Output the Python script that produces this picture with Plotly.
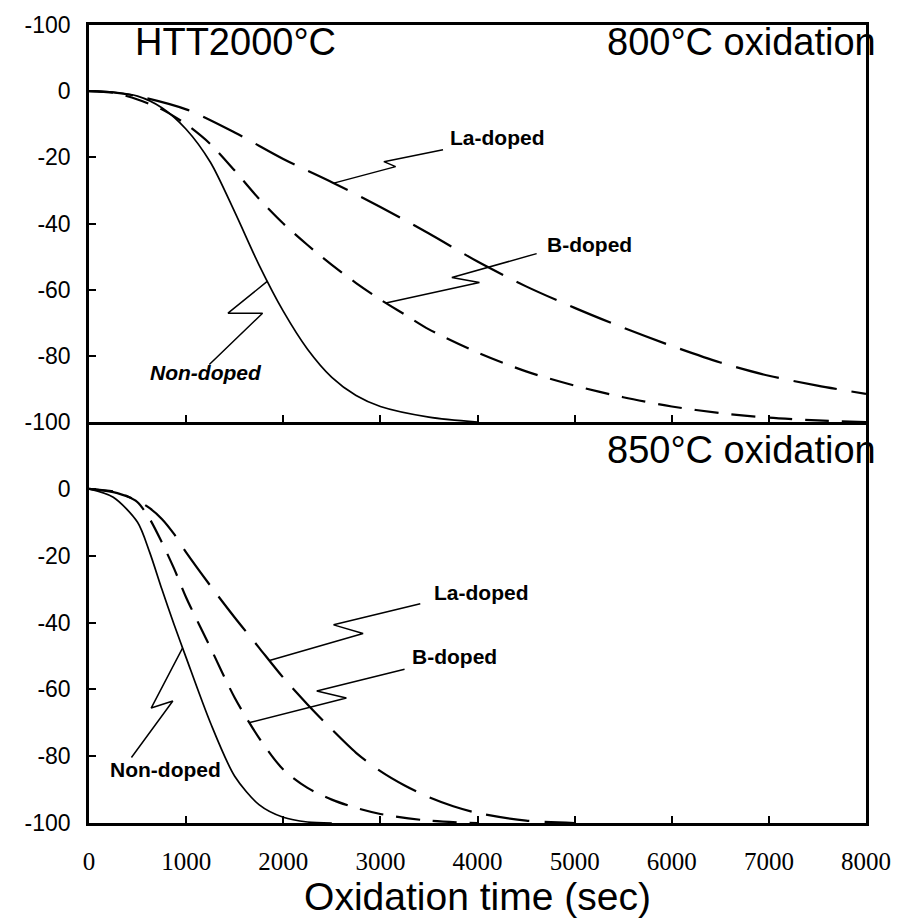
import numpy as np
import plotly.graph_objects as go

# ---- data: weight change (%) versus oxidation time (sec) ----
# 800 °C oxidation
time_nd_800 = [0, 250, 500, 750, 1000, 1250, 1500, 1750, 2000, 2250, 2500, 2750, 3000, 3500, 4000]
wt_nd_800 = [0, -0.3, -1.5, -5, -11.5, -21.5, -36.5, -52.5, -66.5, -78, -86.5, -92, -95.3, -98.5, -100]

time_b_800 = [0, 250, 500, 750, 1000, 1250, 1500, 1750, 2000, 2250, 2500, 2750, 3000, 3250,
              3500, 4000, 4500, 5000, 5500, 6000, 6500, 7000, 7500, 8000]
wt_b_800 = [0, -0.5, -2.5, -5.5, -10, -16, -24, -32.5, -40, -46.5, -52.5, -58, -63, -67.5,
            -72, -79, -84.7, -89, -92.5, -95.3, -97.3, -98.7, -99.5, -100]

time_la_800 = [0, 250, 500, 1000, 1500, 2000, 2500, 3000, 3500, 4000, 4500, 5000, 5500,
               6000, 6500, 7000, 7500, 8000]
wt_la_800 = [0, -0.4, -1.5, -5.5, -12.5, -20.5, -27.5, -35, -43, -51.5, -59, -65.5, -71.5,
             -77, -82, -86, -89, -91.5]

# 850 °C oxidation
time_nd_850 = [0, 250, 500, 625, 750, 875, 1000, 1250, 1500, 1750, 2000, 2250, 2500]
wt_nd_850 = [0, -2.5, -10, -19, -30, -40.5, -50.5, -70, -86, -94.5, -98.3, -99.7, -100]

time_b_850 = [0, 250, 375, 500, 625, 750, 875, 1000, 1250, 1500, 1750, 2000, 2250, 2500,
              2750, 3000, 3500, 4000]
wt_b_850 = [0, -0.8, -2, -4, -9, -16, -23.8, -32.5, -47.5, -62.5, -74.5, -84, -89.5, -93,
            -95.5, -97.3, -99.3, -100]

time_la_850 = [0, 250, 500, 625, 750, 875, 1000, 1250, 1500, 1750, 2000, 2250, 2500, 2750,
               3000, 3250, 3500, 3750, 4000, 4500, 5000]
wt_la_850 = [0, -1, -3.5, -5.8, -9, -13.5, -19, -29, -38.5, -47.5, -56.5, -64.5, -72, -79,
             -84.5, -88.8, -92.3, -95, -97, -99.3, -100]

series_names = ["Non-doped", "B-doped", "La-doped"]
y_tick_vals = [20, 0, -20, -40, -60, -80, -100]
y_tick_text_top = ["-100", "0", "-20", "-40", "-60", "-80", "-100"]
x_tick_vals = [0, 1000, 2000, 3000, 4000, 5000, 6000, 7000, 8000]

# ---- styling ----
SANS = "Liberation Sans, Arial, sans-serif"
SERIF = "Liberation Serif, Times New Roman, serif"
dash_style = {"Non-doped": "solid", "B-doped": "24px,13px", "La-doped": "44px,15px"}
line_width = {"Non-doped": 1.7, "B-doped": 2.2, "La-doped": 2.2}

fig = go.Figure()

panels = {
    "800": ("x", "y", [(time_nd_800, wt_nd_800), (time_b_800, wt_b_800), (time_la_800, wt_la_800)]),
    "850": ("x2", "y2", [(time_nd_850, wt_nd_850), (time_b_850, wt_b_850), (time_la_850, wt_la_850)]),
}

for key, (xa, ya, curves) in panels.items():
    for name, (t, w) in zip(series_names, curves):
        fig.add_trace(go.Scatter(
            x=t, y=w, mode="lines", name=name, xaxis=xa, yaxis=ya,
            line=dict(color="black", width=line_width[name], dash=dash_style[name],
                      shape="spline", smoothing=0.8),
            showlegend=False, hoverinfo="skip"))

# zig-zag leader lines: (panel, series, x on curve, kink A, kink B, end point)
leaders = [
    ("800", 2, 2520, (3157, -22.8), (3036, -21.3), (3645, -17.7)),
    ("800", 1, 3056, (4020, -57.8), (3736, -56.3), (4609, -49.1)),
    ("800", 0, 1838, (1431, -67.1), (1787, -67.1), (1239, -82.6)),
    ("850", 2, 1858, (2822, -43.3), (2518, -40.7), (3411, -34.4)),
    ("850", 1, 1655, (2650, -62.6), (2345, -60.5), (3249, -54.0)),
    ("850", 0, 964, (640, -65.6), (863, -63.5), (437, -80.4)),
]
for key, idx, x0, a, b, e in leaders:
    xa, ya, curves = panels[key]
    t, w = curves[idx]
    y0 = float(np.interp(x0, t, w))
    fig.add_trace(go.Scatter(
        x=[x0, a[0], b[0], e[0]], y=[y0, a[1], b[1], e[1]], mode="lines",
        xaxis=xa, yaxis=ya, line=dict(color="black", width=1.5),
        showlegend=False, hoverinfo="skip"))

label_font = dict(family=SANS, size=21, color="black")
labels = [
    ("x", "y", 3700, -14.0, "left", "<b>La-doped</b>"),
    ("x", "y", 4700, -46.2, "left", "<b>B-doped</b>"),
    ("x", "y", 1200, -85.1, "center", "<b><i>Non-doped</i></b>"),
    ("x2", "y2", 3530, -31.0, "left", "<b>La-doped</b>"),
    ("x2", "y2", 3310, -50.3, "left", "<b>B-doped</b>"),
    ("x2", "y2", 790, -84.0, "center", "<b>Non-doped</b>"),
]
for xr, yr, x, y, anc, txt in labels:
    fig.add_annotation(x=x, y=y, xref=xr, yref=yr, text=txt, showarrow=False,
                       xanchor=anc, yanchor="middle", font=label_font)

big_font = dict(family=SANS, size=38, color="black")
fig.add_annotation(x=450, y=15.0, xref="x", yref="y", text="HTT2000°C", showarrow=False,
                   xanchor="left", yanchor="middle", font=big_font)
fig.add_annotation(x=8000, y=15.0, xref="x", yref="y", text="800°C oxidation", showarrow=False,
                   xanchor="right", yanchor="middle", xshift=12, font=big_font)
fig.add_annotation(x=8000, y=11.5, xref="x2", yref="y2", text="850°C oxidation", showarrow=False,
                   xanchor="right", yanchor="middle", xshift=12, font=big_font)

axis_common = dict(showgrid=False, zeroline=False, showline=True, linecolor="black",
                   linewidth=2.5, ticks="inside", ticklen=7, tickwidth=1.5,
                   tickcolor="black")

split = 405 / 806
fig.update_layout(
    width=903, height=924,
    margin=dict(l=89, r=30, t=17, b=101),
    paper_bgcolor="white", plot_bgcolor="white",
    xaxis=dict(axis_common, range=[0, 8000], anchor="y", tickvals=x_tick_vals,
               showticklabels=False, mirror=True),
    yaxis=dict(axis_common, range=[-100, 20], domain=[split, 1], anchor="x", mirror=True,
               tickvals=y_tick_vals, ticktext=y_tick_text_top, ticklabelstandoff=11,
               tickfont=dict(family=SANS, size=23, color="black")),
    # the shared border between the panels is drawn by the upper panel's x axis
    xaxis2=dict(axis_common, range=[0, 8000], anchor="y2", tickvals=x_tick_vals, mirror=False,
                ticktext=[str(v) for v in x_tick_vals], ticklabelstandoff=14,
                tickfont=dict(family=SERIF, size=25, color="black"),
                title=dict(text="Oxidation time (sec)", standoff=2,
                           font=dict(family=SANS, size=39, color="black"))),
    yaxis2=dict(axis_common, range=[-100, 20], domain=[0, split], anchor="x2", mirror=True,
                tickvals=y_tick_vals[1:], ticktext=y_tick_text_top[1:], ticklabelstandoff=11,
                tickfont=dict(family=SANS, size=23, color="black")),
)

fig.write_html("out.html")
